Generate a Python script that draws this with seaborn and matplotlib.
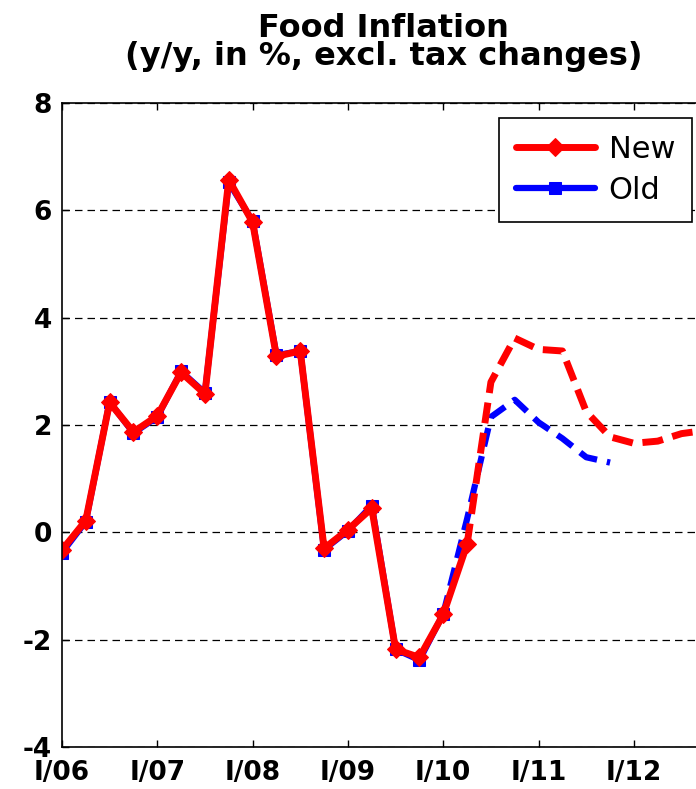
import pandas as pd
import seaborn as sns
import matplotlib.pyplot as plt

# Quarterly data, I/06 = index 0
tick_pos = [0, 4, 8, 12, 16, 20, 24]
tick_labels = ['I/06', 'I/07', 'I/08', 'I/09', 'I/10', 'I/11', 'I/12']

# history (solid lines)
old_hist = [-0.38, 0.20, 2.43, 1.85, 2.15, 3.00, 2.60, 6.52, 5.80, 3.30, 3.38,
            -0.32, 0.03, 0.50, -2.18, -2.38, -1.52]
new_hist = [-0.33, 0.22, 2.42, 1.87, 2.17, 2.98, 2.58, 6.57, 5.78, 3.28, 3.38,
            -0.30, 0.05, 0.45, -2.18, -2.33, -1.53, -0.22]

# forecasts (dashed lines)
old_fc_start = 16
old_fc = [-1.52, 0.25, 2.15, 2.47, 2.05, 1.75, 1.40, 1.30]
new_fc_start = 17
new_fc = [-0.22, 2.80, 3.62, 3.41, 3.38, 2.25, 1.78, 1.66, 1.70, 1.84, 1.90]

df_old_h = pd.DataFrame({'q': range(len(old_hist)), 'val': old_hist})
df_new_h = pd.DataFrame({'q': range(len(new_hist)), 'val': new_hist})
df_old_f = pd.DataFrame({'q': range(old_fc_start, old_fc_start + len(old_fc)), 'val': old_fc})
df_new_f = pd.DataFrame({'q': range(new_fc_start, new_fc_start + len(new_fc)), 'val': new_fc})

sns.set_style("ticks", {"xtick.direction": "in", "ytick.direction": "in",
                        "text.color": "k", "xtick.color": "k", "ytick.color": "k",
                        "axes.labelcolor": "k", "axes.edgecolor": "k"})
plt.rcParams['font.family'] = ['DejaVu Sans']

fig = plt.figure(figsize=(6.96, 7.89), dpi=100)
ax = fig.add_axes([0.089, 0.0532, 0.9245, 0.8162])

# grid first
ax.set_axisbelow(True)
ax.yaxis.grid(True, color='k', linestyle=(0, (6, 4)), linewidth=0.9)

# old (blue)
sns.lineplot(data=df_old_h, x='q', y='val', color='blue', lw=4.5, marker='s',
             markersize=9, markeredgecolor='blue', label='Old', ax=ax)
sns.lineplot(data=df_old_f, x='q', y='val', color='blue', lw=4.5, ax=ax)
ax.lines[-1].set_dashes((3, 1.6))

# new (red)
sns.lineplot(data=df_new_h, x='q', y='val', color='red', lw=5, marker='D',
             markersize=9.5, markeredgecolor='red', label='New', ax=ax)
sns.lineplot(data=df_new_f, x='q', y='val', color='red', lw=5, ax=ax)
ax.lines[-1].set_dashes((3, 1.4))

ax.set_xlim(0, 27)
ax.set_ylim(-4, 8)
ax.set_yticks(range(-4, 9, 2))
ax.set_yticklabels([str(v) for v in range(-4, 9, 2)], fontsize=19, fontweight='bold')
ax.set_xticks(tick_pos)
ax.set_xticklabels(tick_labels, fontsize=19, fontweight='bold')
ax.set_xlabel('')
ax.set_ylabel('')
ax.tick_params(axis='both', which='both', direction='in', top=True, right=True,
               length=5, width=1, colors='k')
ax.tick_params(axis='x', pad=9)
ax.tick_params(axis='y', pad=7)
for s in ax.spines.values():
    s.set_linewidth(1.2)
    s.set_color('k')

# legend: New first, then Old
h, l = ax.get_legend_handles_labels()
order = [l.index('New'), l.index('Old')]
leg = ax.legend([h[i] for i in order], [l[i] for i in order],
                loc='upper right', bbox_to_anchor=(692 / 696, 1 - 118 / 789),
                bbox_transform=fig.transFigure, borderaxespad=0,
                fontsize=22, fancybox=False, framealpha=1, edgecolor='k',
                handlelength=2.6, handletextpad=0.45, borderpad=0.55,
                labelspacing=0.4, numpoints=1)
leg.get_frame().set_linewidth(1.2)
for t in leg.get_texts():
    t.set_color('k')

fig.text(0.551, 0.984, 'Food Inflation\n(y/y, in %, excl. tax changes)',
         ha='center', va='top', fontsize=23, fontweight='bold', linespacing=0.88,
         color='k')

fig.savefig('out.png', dpi=100)
